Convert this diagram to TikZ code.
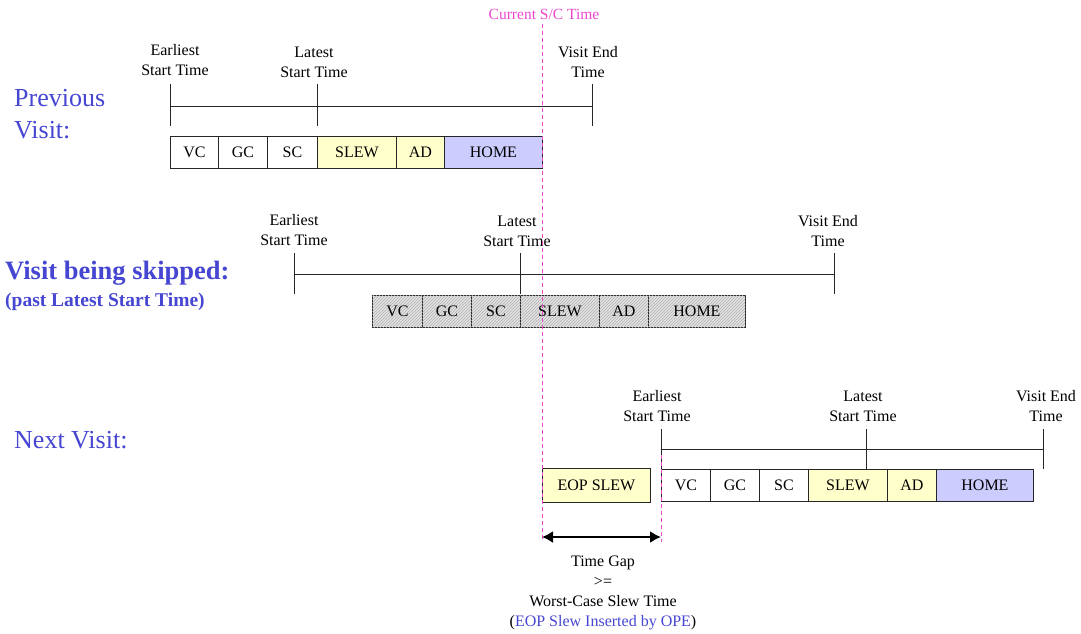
\documentclass[tikz,border=0pt]{standalone}
\usepackage{fontspec}
\setmainfont{Liberation Serif}
\usetikzlibrary{patterns,arrows.meta}
\definecolor{lyellow}{RGB}{255,255,204}
\definecolor{lblue}{RGB}{204,204,255}
\definecolor{pinkc}{RGB}{235,70,205}
\definecolor{titleblue}{RGB}{70,70,210}
\definecolor{skipfill}{RGB}{226,226,226}
\begin{document}
\begin{tikzpicture}[x=1pt,y=-1pt,
  lab/.style={align=center,font=\fontsize{16}{20}\selectfont,inner sep=0pt},
  box/.style={draw=black!85,line width=0.9pt,rectangle,inner sep=0pt,minimum height=32pt,anchor=west,font=\fontsize{16}{20}\selectfont},
  skipbox/.style={box,fill=skipfill,postaction={pattern=north east lines,pattern color=black!30}},
  tl/.style={line width=0.9pt,draw=black!85},
  sct/.style={pinkc,dash pattern=on 4pt off 3pt,line width=1pt},
  title/.style={titleblue,anchor=west,inner sep=0pt,align=left}]
\useasboundingbox (0,0) rectangle (1081,633);

% ---------- Previous visit ----------
\node[title,font=\fontsize{26}{32}\selectfont] (ptitle) at (14,114) {Previous\\Visit:};
\node[lab] (pel) at (175,60) {Earliest\\Start Time};
\node[lab] (pll) at (314,62) {Latest\\Start Time};
\node[lab] (pvl) at (588,62) {Visit End\\Time};
\coordinate (pe1) at (170,84); \coordinate (pe2) at (170,126);
\coordinate (pl1) at (317,84); \coordinate (pl2) at (317,126);
\coordinate (pv1) at (592,84); \coordinate (pv2) at (592,126);
\coordinate (ph1) at (170,106); \coordinate (ph2) at (592,106);
\draw[tl] (pe1)--(pe2); \draw[tl] (pl1)--(pl2); \draw[tl] (pv1)--(pv2); \draw[tl] (ph1)--(ph2);
\node[box,minimum width=48pt] (pvc) at (170,152) {VC};
\node[box,minimum width=49pt] (pgc) at (218,152) {GC};
\node[box,minimum width=50pt] (psc) at (267,152) {SC};
\node[box,minimum width=79pt,fill=lyellow] (psl) at (317,152) {SLEW};
\node[box,minimum width=48pt,fill=lyellow] (pad) at (396,152) {AD};
\node[box,minimum width=98pt,fill=lblue] (pho) at (444,152) {HOME};

% ---------- Visit being skipped ----------
\node[title,font=\fontsize{26.5}{30}\bfseries] (stitle) at (5,273) {Visit being skipped:};
\node[title,font=\fontsize{19.5}{24}\bfseries] (ssub) at (5,302) {(past Latest Start Time)};
\node[lab] (sel) at (294,230) {Earliest\\Start Time};
\node[lab] (sll) at (517,231) {Latest\\Start Time};
\node[lab] (svl) at (828,231) {Visit End\\Time};
\coordinate (se1) at (294,253); \coordinate (se2) at (294,294);
\coordinate (sl1) at (520,253); \coordinate (sl2) at (520,294);
\coordinate (sv1) at (834,253); \coordinate (sv2) at (834,294);
\coordinate (sh1) at (294,274); \coordinate (sh2) at (834,274);
\draw[tl] (se1)--(se2); \draw[tl] (sl1)--(sl2); \draw[tl] (sv1)--(sv2); \draw[tl] (sh1)--(sh2);
\node[skipbox,minimum width=50pt] (svc) at (372,311) {VC};
\node[skipbox,minimum width=49pt] (sgc) at (422,311) {GC};
\node[skipbox,minimum width=49pt] (ssc) at (471,311) {SC};
\node[skipbox,minimum width=79pt] (ssl) at (520,311) {SLEW};
\node[skipbox,minimum width=49pt] (sad) at (599,311) {AD};
\node[skipbox,minimum width=97pt] (sho) at (648,311) {HOME};

% ---------- Next visit ----------
\node[title,font=\fontsize{26}{30}\selectfont] (ntitle) at (14,440) {Next Visit:};
\node[lab] (nel) at (657,406) {Earliest\\Start Time};
\node[lab] (nll) at (863,406) {Latest\\Start Time};
\node[lab] (nvl) at (1046,406) {Visit End\\Time};
\coordinate (ne1) at (661,429); \coordinate (ne2) at (661,469);
\coordinate (nl1) at (866,429); \coordinate (nl2) at (866,469);
\coordinate (nv1) at (1043,429); \coordinate (nv2) at (1043,469);
\coordinate (nh1) at (661,449); \coordinate (nh2) at (1043,449);
\draw[tl] (ne1)--(ne2); \draw[tl] (nl1)--(nl2); \draw[tl] (nv1)--(nv2); \draw[tl] (nh1)--(nh2);
\node[box,minimum width=108pt,minimum height=34pt,fill=lyellow] (eop) at (542,485) {EOP SLEW};
\node[box,minimum width=49pt] (nvc) at (661,485) {VC};
\node[box,minimum width=49pt] (ngc) at (710,485) {GC};
\node[box,minimum width=49pt] (nsc) at (759,485) {SC};
\node[box,minimum width=79pt,fill=lyellow] (nsl) at (808,485) {SLEW};
\node[box,minimum width=49pt,fill=lyellow] (nad) at (887,485) {AD};
\node[box,minimum width=97pt,fill=lblue] (nho) at (936,485) {HOME};

% ---------- Current S/C time ----------
\node[pinkc,font=\fontsize{15.5}{18}\selectfont,inner sep=0pt] (sct) at (544,14) {Current S/C Time};
\coordinate (c1) at (542,24); \coordinate (c2) at (542,542);
\draw[sct] (c1)--(c2);
\coordinate (g1) at (661,455); \coordinate (g2) at (661,542);
\draw[sct] (g1)--(g2);

% ---------- Time gap ----------
\coordinate (ga) at (542,537); \coordinate (gb) at (661,537);
\draw[{Latex[length=11pt,width=12pt]}-{Latex[length=11pt,width=12pt]},line width=1.8pt] (ga)--(gb);
\node[lab] (gap) at (603,593) {Time Gap\\>=\\Worst-Case Slew Time\\(\textcolor{titleblue}{EOP Slew Inserted by OPE})};
\end{tikzpicture}
\end{document}
